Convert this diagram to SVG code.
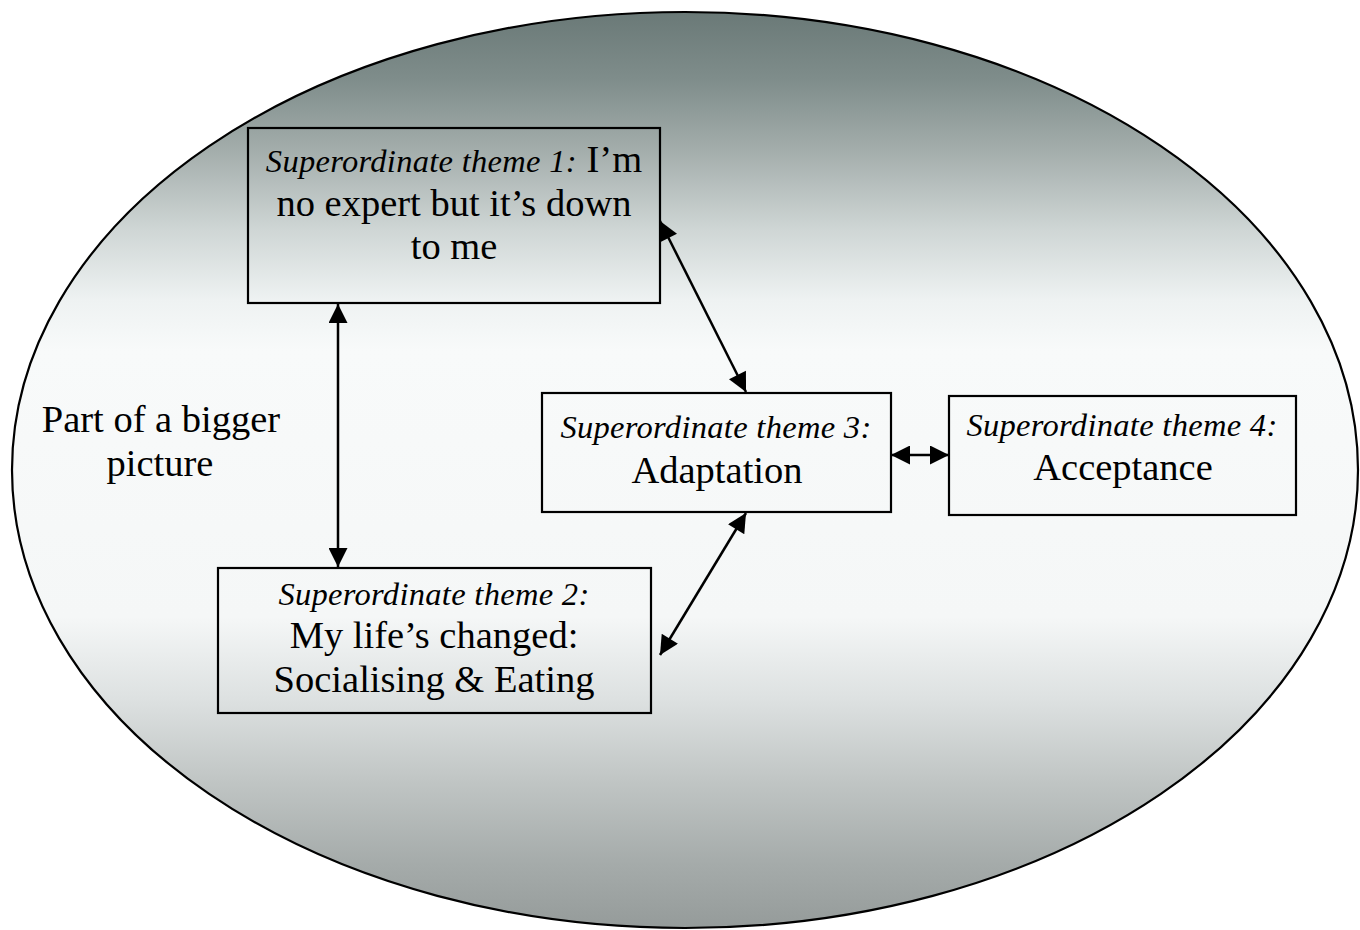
<svg xmlns="http://www.w3.org/2000/svg" width="1360" height="930" viewBox="0 0 1360 930">
<style>
.box{fill:none;stroke:#000;stroke-width:2.2}
.lbl{font-family:"Liberation Serif","Times New Roman",serif;font-size:38.5px;fill:#000;text-anchor:middle}
.it{font-style:italic;font-size:32.5px;letter-spacing:0.3px}
.conn{stroke:#000;stroke-width:2.5;fill:none;marker-start:url(#ah);marker-end:url(#ah)}
</style>
<defs>
<linearGradient id="bg" gradientUnits="userSpaceOnUse" x1="0" y1="12" x2="0" y2="928">
<stop offset="0" stop-color="#6a7977"/>
<stop offset="0.074" stop-color="#7f8d8b"/>
<stop offset="0.15" stop-color="#a3adab"/>
<stop offset="0.238" stop-color="#cfd6d5"/>
<stop offset="0.314" stop-color="#eef2f2"/>
<stop offset="0.37" stop-color="#f8fafa"/>
<stop offset="0.66" stop-color="#f5f7f7"/>
<stop offset="0.75" stop-color="#dde1e1"/>
<stop offset="0.84" stop-color="#c0c5c4"/>
<stop offset="0.93" stop-color="#a5abaa"/>
<stop offset="1" stop-color="#959b9a"/>
</linearGradient>
<marker id="ah" viewBox="0 0 10 10" refX="10" refY="5" markerWidth="22" markerHeight="19" markerUnits="userSpaceOnUse" orient="auto-start-reverse">
<path d="M0,0 L10,5 L0,10 z" fill="#000"/>
</marker>
</defs>
<rect width="1360" height="930" fill="#ffffff"/>
<g id="background">
<ellipse cx="685" cy="470" rx="673" ry="458" fill="url(#bg)" stroke="#000" stroke-width="2.2"/>
<text class="lbl" x="161" y="432">Part of a bigger</text>
<text class="lbl" x="160" y="476">picture</text>
</g>
<g id="connectors">
<line class="conn" x1="338" y1="304" x2="338" y2="567"/>
<line class="conn" x1="660" y1="221" x2="746" y2="392"/>
<line class="conn" x1="746" y1="513" x2="660" y2="655"/>
<line class="conn" x1="891" y1="455" x2="949" y2="455"/>
</g>
<g id="theme1">
<rect class="box" x="248" y="128" width="412" height="175"/>
<text class="lbl" x="454" y="172"><tspan class="it">Superordinate theme 1:</tspan> I’m</text>
<text class="lbl" x="454" y="216">no expert but it’s down</text>
<text class="lbl" x="454" y="259">to me</text>
</g>
<g id="theme2">
<rect class="box" x="218" y="568" width="433" height="145"/>
<text class="lbl it" x="434" y="605">Superordinate theme 2:</text>
<text class="lbl" x="434" y="648">My life’s changed:</text>
<text class="lbl" x="434" y="692">Socialising &amp; Eating</text>
</g>
<g id="theme3">
<rect class="box" x="542" y="393" width="349" height="119"/>
<text class="lbl it" x="716" y="438">Superordinate theme 3:</text>
<text class="lbl" x="717" y="483">Adaptation</text>
</g>
<g id="theme4">
<rect class="box" x="949" y="396" width="347" height="119"/>
<text class="lbl it" x="1122" y="436">Superordinate theme 4:</text>
<text class="lbl" x="1123" y="480">Acceptance</text>
</g>
</svg>
